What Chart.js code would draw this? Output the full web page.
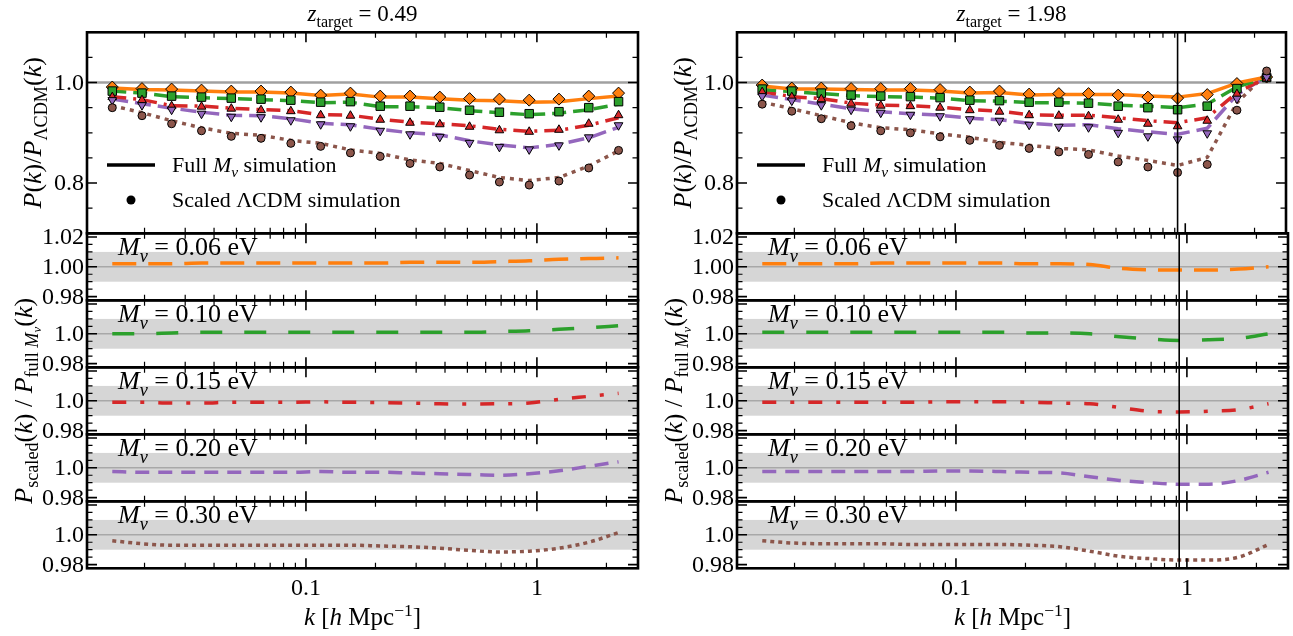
<!DOCTYPE html>
<html><head><meta charset="utf-8">
<script src="https://cdn.jsdelivr.net/npm/chart.js@4.4.1/dist/chart.umd.min.js"></script>
<style>
html,body{margin:0;padding:0;background:#fff;}
#wrap{position:relative;width:1293px;height:636px;overflow:hidden;background:#fff;}
#wrap canvas{position:absolute;left:0;top:0;width:1293px;height:636px;}
</style></head><body><div id="wrap"></div>
<script>
// ---------------- DATA ----------------
const K = [0.0145, 0.0195, 0.0262, 0.0353, 0.0475, 0.0639, 0.0860, 0.1158, 0.1558, 0.2097, 0.2822, 0.3798, 0.511, 0.688, 0.926, 1.246, 1.677, 2.257];
const MNU = ['0.06', '0.10', '0.15', '0.20', '0.30'];
const Z_TARGETS = ['0.49', '1.98'];
const K_VLINE_198 = 0.926;

// full M_nu simulation P(k)/P_LCDM(k) (lines), z = 0.49
const FULL_049 = [
  [0.989, 0.986, 0.985, 0.983, 0.981, 0.981, 0.979, 0.974, 0.977, 0.971, 0.971, 0.968, 0.965, 0.964, 0.961, 0.962, 0.968, 0.973],
  [0.983, 0.979, 0.972, 0.970, 0.968, 0.966, 0.964, 0.960, 0.961, 0.952, 0.952, 0.950, 0.944, 0.940, 0.936, 0.939, 0.946, 0.957],
  [0.972, 0.966, 0.954, 0.953, 0.949, 0.946, 0.944, 0.936, 0.935, 0.927, 0.921, 0.918, 0.914, 0.907, 0.903, 0.905, 0.915, 0.930],
  [0.967, 0.958, 0.949, 0.941, 0.935, 0.934, 0.928, 0.919, 0.916, 0.907, 0.900, 0.896, 0.884, 0.876, 0.870, 0.877, 0.890, 0.911],
  [0.954, 0.940, 0.924, 0.910, 0.899, 0.895, 0.885, 0.879, 0.866, 0.859, 0.846, 0.839, 0.825, 0.811, 0.805, 0.811, 0.834, 0.864]
];
// scaled LCDM simulation (markers), z = 0.49
const SCALED_049 = [
  [0.991, 0.988, 0.987, 0.985, 0.983, 0.983, 0.981, 0.975, 0.979, 0.973, 0.973, 0.971, 0.968, 0.967, 0.965, 0.967, 0.973, 0.979],
  [0.983, 0.979, 0.973, 0.971, 0.969, 0.967, 0.965, 0.961, 0.962, 0.953, 0.953, 0.951, 0.945, 0.941, 0.938, 0.942, 0.950, 0.962],
  [0.971, 0.965, 0.953, 0.952, 0.948, 0.945, 0.943, 0.935, 0.934, 0.926, 0.920, 0.917, 0.912, 0.905, 0.902, 0.906, 0.918, 0.935],
  [0.965, 0.955, 0.946, 0.938, 0.932, 0.931, 0.925, 0.917, 0.913, 0.904, 0.897, 0.892, 0.880, 0.872, 0.867, 0.875, 0.891, 0.915],
  [0.950, 0.934, 0.918, 0.904, 0.893, 0.889, 0.879, 0.873, 0.860, 0.853, 0.839, 0.832, 0.816, 0.802, 0.796, 0.804, 0.830, 0.865]
];
// full M_nu simulation, z = 1.98
const FULL_198 = [
  [0.993, 0.987, 0.987, 0.986, 0.985, 0.985, 0.983, 0.979, 0.980, 0.975, 0.976, 0.976, 0.976, 0.973, 0.971, 0.978, 0.999, 1.011],
  [0.986, 0.982, 0.978, 0.974, 0.972, 0.971, 0.969, 0.964, 0.963, 0.960, 0.960, 0.959, 0.955, 0.953, 0.950, 0.957, 0.991, 1.010],
  [0.982, 0.972, 0.968, 0.959, 0.955, 0.954, 0.951, 0.946, 0.943, 0.936, 0.935, 0.935, 0.930, 0.924, 0.920, 0.930, 0.980, 1.010],
  [0.975, 0.966, 0.957, 0.948, 0.942, 0.938, 0.935, 0.929, 0.926, 0.919, 0.915, 0.916, 0.908, 0.902, 0.897, 0.909, 0.976, 1.012],
  [0.961, 0.948, 0.934, 0.920, 0.910, 0.906, 0.898, 0.891, 0.881, 0.875, 0.869, 0.866, 0.854, 0.845, 0.835, 0.851, 0.960, 1.018]
];
// scaled LCDM simulation, z = 1.98
const SCALED_198 = [
  [0.995, 0.989, 0.989, 0.988, 0.988, 0.988, 0.986, 0.981, 0.983, 0.977, 0.978, 0.978, 0.975, 0.971, 0.969, 0.976, 0.998, 1.011],
  [0.987, 0.983, 0.979, 0.975, 0.973, 0.972, 0.970, 0.965, 0.964, 0.961, 0.961, 0.959, 0.953, 0.950, 0.946, 0.953, 0.988, 1.010],
  [0.981, 0.971, 0.967, 0.958, 0.954, 0.953, 0.950, 0.945, 0.942, 0.935, 0.934, 0.933, 0.926, 0.918, 0.913, 0.924, 0.977, 1.008],
  [0.973, 0.964, 0.955, 0.946, 0.940, 0.936, 0.933, 0.927, 0.924, 0.916, 0.912, 0.911, 0.900, 0.893, 0.887, 0.899, 0.968, 1.011],
  [0.957, 0.943, 0.928, 0.914, 0.904, 0.900, 0.892, 0.885, 0.875, 0.869, 0.862, 0.857, 0.842, 0.832, 0.821, 0.837, 0.945, 1.023]
];
// P_scaled / P_full ratios
const RATIO_049 = [
  [1.002, 1.002, 1.002, 1.0025, 1.0025, 1.0025, 1.0025, 1.0025, 1.0025, 1.0025, 1.003, 1.003, 1.003, 1.0035, 1.004, 1.005, 1.0055, 1.006],
  [1.000, 1.000, 1.0005, 1.001, 1.001, 1.001, 1.001, 1.001, 1.001, 1.001, 1.001, 1.001, 1.001, 1.0015, 1.002, 1.003, 1.004, 1.0055],
  [0.999, 0.999, 0.9985, 0.9985, 0.999, 0.999, 0.999, 0.9993, 0.999, 0.9988, 0.9985, 0.998, 0.9978, 0.998, 0.9985, 1.001, 1.003, 1.005],
  [0.9975, 0.997, 0.997, 0.997, 0.997, 0.997, 0.997, 0.9975, 0.997, 0.997, 0.9965, 0.996, 0.9955, 0.995, 0.996, 0.998, 1.001, 1.004],
  [0.996, 0.994, 0.993, 0.993, 0.993, 0.993, 0.993, 0.993, 0.993, 0.9925, 0.992, 0.991, 0.9895, 0.9885, 0.989, 0.991, 0.995, 1.0015]
];
const RATIO_198 = [
  [1.002, 1.002, 1.002, 1.002, 1.0025, 1.0025, 1.0025, 1.0025, 1.0025, 1.002, 1.002, 1.0015, 0.999, 0.998, 0.9978, 0.9978, 0.9985, 1.000],
  [1.001, 1.001, 1.001, 1.001, 1.001, 1.001, 1.001, 1.001, 1.001, 1.0005, 1.0005, 1.000, 0.998, 0.9965, 0.9955, 0.996, 0.997, 1.000],
  [0.999, 0.999, 0.999, 0.999, 0.999, 0.999, 0.9993, 0.9993, 0.9993, 0.999, 0.9985, 0.998, 0.9955, 0.993, 0.9925, 0.993, 0.994, 0.998],
  [0.9975, 0.9975, 0.9975, 0.9975, 0.9975, 0.9975, 0.9978, 0.9978, 0.9975, 0.997, 0.9965, 0.994, 0.9915, 0.990, 0.989, 0.989, 0.9915, 0.997],
  [0.996, 0.9945, 0.994, 0.994, 0.994, 0.9935, 0.9935, 0.9935, 0.9935, 0.993, 0.992, 0.989, 0.9855, 0.984, 0.983, 0.983, 0.985, 0.9935]
];
const X_MAJOR = [0.01, 0.1, 1];
const X_TICK_LABELS = ['0.01', '0.1', '1'];
const X_MINOR = [0.02,0.03,0.04,0.05,0.06,0.07,0.08,0.09,0.2,0.3,0.4,0.5,0.6,0.7,0.8,0.9,2,3];
const TOP_Y_MAJOR = [0.8, 1.0];
const TOP_Y_LABELS = ['0.8', '1.0'];
const TOP_Y_MINOR = [0.7,0.75,0.85,0.9,0.95,1.05,1.1];
const SUB_Y_MAJOR = [0.98, 1.00, 1.02];
const SUB_Y_LABELS_FIRST = ['0.98', '1.00', '1.02'];
const SUB_Y_LABELS_OTHER = ['0.98', '1.0', ''];
const SUB_Y_MINOR = [0.985,0.99,0.995,1.005,1.01,1.015];

// ---------------- STYLE / LAYOUT ----------------
const W = 1293, H = 636;
const XMIN = 0.01127, XMAX = 2.74;
const COL_LEFT = [87, 737], PLOT_W = 551;
const TOP_Y0 = 32.3, TOP_H = 201, SUB_H = 67;
const COLORS = ['#ff7f0e', '#2ca02c', '#d62728', '#9467bd', '#8c564b'];
const TOP_DASH = [[], [14, 7], [14, 7, 3, 7], [16, 7], [4, 5]];
const SUB_DASH = [[24, 12], [22, 22], [14, 14, 4, 14], [14, 9], [4, 4]];
const PSTYLE = ['rectRot', 'rect', 'triangle', 'triangle', 'circle'];
const PRAD = [6, 6, 5, 5, 4];
const PROT = [0, 0, 0, 180, 0];
const FONT = '"Liberation Serif", "DejaVu Serif", serif';

function segFont(s, size) { return (s.it ? 'italic ' : '') + (size * (s.s || 1)).toFixed(1) + 'px ' + FONT; }
function richWidth(ctx, segs, size) { let w = 0; for (const s of segs) { ctx.font = segFont(s, size); w += ctx.measureText(s.t).width; } return w; }
function drawRich(ctx, segs, x, y, size, align) {
  const w = richWidth(ctx, segs, size);
  let cx = align === 'center' ? x - w / 2 : align === 'right' ? x - w : x;
  ctx.textAlign = 'left'; ctx.textBaseline = 'alphabetic'; ctx.fillStyle = '#000';
  for (const s of segs) { ctx.font = segFont(s, size); ctx.fillText(s.t, cx, y + (s.dy || 0) * size); cx += ctx.measureText(s.t).width; }
}
const SUB = 0.24;
const TXT_TITLE = z => [{t:'z',it:1},{t:'target',s:0.7,dy:SUB},{t:' = ' + z}];
const TXT_TOPY = [{t:'P',it:1},{t:'('},{t:'k',it:1},{t:')/'},{t:'P',it:1},{t:'ΛCDM',s:0.7,dy:SUB},{t:'('},{t:'k',it:1},{t:')'}];
const TXT_SUBY = [{t:'P',it:1},{t:'scaled',s:0.7,dy:SUB},{t:'('},{t:'k',it:1},{t:')'},{t:' / '},{t:'P',it:1},{t:'full ',s:0.7,dy:SUB},{t:'M',it:1,s:0.7,dy:SUB},{t:'ν',it:1,s:0.5,dy:0.34},{t:'('},{t:'k',it:1},{t:')'}];
const TXT_X = [{t:'k',it:1},{t:' ['},{t:'h',it:1},{t:' Mpc'},{t:'−1',s:0.7,dy:-0.38},{t:']'}];
const TXT_MNU = m => [{t:'M',it:1},{t:'ν',it:1,s:0.7,dy:SUB},{t:' = ' + m + ' eV'}];
const TXT_LEG1 = [{t:'Full '},{t:'M',it:1},{t:'ν',it:1,s:0.7,dy:SUB},{t:' simulation'}];
const TXT_LEG2 = [{t:'Scaled ΛCDM simulation'}];

const mplPlugin = {
  id: 'mpl',
  beforeDatasetsDraw(chart, args, o) {
    const ctx = chart.ctx, a = chart.chartArea, y = chart.scales.y;
    ctx.save();
    if (o.kind === 'sub') {
      ctx.fillStyle = '#d6d6d6';
      const y1 = y.getPixelForValue(1.01), y2 = y.getPixelForValue(0.99);
      ctx.fillRect(a.left, y1, a.right - a.left, y2 - y1);
      ctx.strokeStyle = '#a8a8a8'; ctx.lineWidth = 1.5;
    } else {
      ctx.strokeStyle = '#a0a0a0'; ctx.lineWidth = 2.5;
    }
    const p = y.getPixelForValue(1.0);
    ctx.beginPath(); ctx.moveTo(a.left, p); ctx.lineTo(a.right, p); ctx.stroke();
    ctx.restore();
  },
  afterDatasetsDraw(chart, args, o) {
    if (o.col !== 1) return;
    const ctx = chart.ctx, a = chart.chartArea;
    const px = chart.scales.x.getPixelForValue(K_VLINE_198);
    ctx.save(); ctx.strokeStyle = '#000'; ctx.lineWidth = 1.6;
    ctx.beginPath(); ctx.moveTo(px, a.top); ctx.lineTo(px, a.bottom); ctx.stroke(); ctx.restore();
  },
  afterDraw(chart, args, o) {
    const ctx = chart.ctx, a = chart.chartArea, xs = chart.scales.x, ys = chart.scales.y;
    ctx.save();
    ctx.strokeStyle = '#000';
    const xt = (v, len, lw) => { const p = xs.getPixelForValue(v); if (p < a.left + 1 || p > a.right - 1) return;
      ctx.lineWidth = lw; ctx.beginPath(); ctx.moveTo(p, a.top); ctx.lineTo(p, a.top + len); ctx.moveTo(p, a.bottom); ctx.lineTo(p, a.bottom - len); ctx.stroke(); };
    const yt = (v, len, lw) => { const p = ys.getPixelForValue(v); if (p < a.top + 1 || p > a.bottom - 1) return;
      ctx.lineWidth = lw; ctx.beginPath(); ctx.moveTo(a.left, p); ctx.lineTo(a.left + len, p); ctx.moveTo(a.right, p); ctx.lineTo(a.right - len, p); ctx.stroke(); };
    X_MAJOR.forEach(v => xt(v, 10, 1.6));
    X_MINOR.forEach(v => xt(v, 5.5, 1.2));
    const ymaj = o.kind === 'top' ? TOP_Y_MAJOR : SUB_Y_MAJOR;
    const ymin = o.kind === 'top' ? TOP_Y_MINOR : SUB_Y_MINOR;
    ymaj.forEach(v => yt(v, 10, 1.6));
    ymin.forEach(v => yt(v, 5.5, 1.2));
    ctx.lineWidth = 2.6;
    ctx.strokeRect(a.left, a.top, a.right - a.left, a.bottom - a.top);
    ctx.fillStyle = '#000'; ctx.font = '24px ' + FONT; ctx.textAlign = 'right'; ctx.textBaseline = 'middle';
    const labs = o.kind === 'top' ? TOP_Y_LABELS : (o.idx === 0 ? SUB_Y_LABELS_FIRST : SUB_Y_LABELS_OTHER);
    ymaj.forEach((v, i) => { if (labs[i]) ctx.fillText(labs[i], a.left - 3, ys.getPixelForValue(v) + 1); });
    const cx = (a.left + a.right) / 2;
    if (o.kind === 'top') {
      drawRich(ctx, TXT_TITLE(Z_TARGETS[o.col]), cx, 21, 23, 'center');
      ctx.strokeStyle = '#000'; ctx.lineWidth = 3.5;
      ctx.beginPath(); ctx.moveTo(a.left + 20, 165); ctx.lineTo(a.left + 68, 165); ctx.stroke();
      ctx.fillStyle = '#000'; ctx.beginPath(); ctx.arc(a.left + 44, 200, 4.5, 0, Math.PI * 2); ctx.fill();
      drawRich(ctx, TXT_LEG1, a.left + 85, 172, 22, 'left');
      drawRich(ctx, TXT_LEG2, a.left + 85, 207, 22, 'left');
      ctx.save(); ctx.translate(a.left - 46, (a.top + a.bottom) / 2); ctx.rotate(-Math.PI / 2);
      drawRich(ctx, TXT_TOPY, 0, 0, 26, 'center'); ctx.restore();
    } else {
      drawRich(ctx, TXT_MNU(MNU[o.idx]), a.left + 31, a.top + 22, 26, 'left');
      if (o.idx === 2) {
        ctx.save(); ctx.translate(a.left - 55, a.top + SUB_H / 2); ctx.rotate(-Math.PI / 2);
        drawRich(ctx, TXT_SUBY, 0, 0, 26, 'center'); ctx.restore();
      }
      if (o.idx === 4) {
        ctx.fillStyle = '#000'; ctx.font = '24px ' + FONT; ctx.textAlign = 'center'; ctx.textBaseline = 'alphabetic';
        X_MAJOR.forEach((v, i) => { const p = xs.getPixelForValue(v); if (p >= a.left && p <= a.right) ctx.fillText(X_TICK_LABELS[i], p, a.bottom + 27); });
        drawRich(ctx, TXT_X, cx, a.bottom + 57, 25, 'center');
      }
    }
    ctx.restore();
  }
};

const wrap = document.getElementById('wrap');
function makeChart(l, t, b, ymin, ymax, datasets, mpl) {
  const c = document.createElement('canvas');
  c.width = W; c.height = H; wrap.appendChild(c);
  return new Chart(c, {
    type: 'line',
    data: { datasets },
    options: {
      responsive: false, animation: false, devicePixelRatio: 1,
      layout: { padding: { left: l, right: W - (l + PLOT_W), top: t, bottom: H - b } },
      scales: {
        x: { type: 'logarithmic', min: XMIN, max: XMAX, display: false },
        y: { type: 'linear', min: ymin, max: ymax, display: false }
      },
      plugins: { legend: { display: false }, tooltip: { enabled: false }, mpl },
      events: []
    },
    plugins: [mplPlugin]
  });
}
const pts = arr => K.map((k, j) => ({ x: k, y: arr[j] }));

[[FULL_049, SCALED_049, RATIO_049], [FULL_198, SCALED_198, RATIO_198]].forEach(([full, scaled, ratio], col) => {
  const l = COL_LEFT[col];
  const ds = [];
  for (let i = 0; i < 5; i++) {
    ds.push({ data: pts(full[i]), borderColor: COLORS[i], borderWidth: 3.5, borderDash: TOP_DASH[i], borderCapStyle: 'butt', borderJoinStyle: 'round', pointRadius: 0, tension: 0, fill: false, order: 10 });
  }
  for (let i = 0; i < 5; i++) {
    ds.push({ data: pts(scaled[i]), showLine: false, pointStyle: PSTYLE[i], pointRadius: PRAD[i], pointRotation: PROT[i], pointBackgroundColor: COLORS[i], pointBorderColor: '#000', pointBorderWidth: 1, backgroundColor: COLORS[i], borderColor: '#000', order: 5 - i });
  }
  makeChart(l, TOP_Y0, TOP_Y0 + TOP_H, 0.7, 1.1, ds, { kind: 'top', col });
  for (let i = 0; i < 5; i++) {
    const t = TOP_Y0 + TOP_H + i * SUB_H;
    makeChart(l, t, t + SUB_H, 0.9775, 1.0225, [{ data: pts(ratio[i]), borderColor: COLORS[i], borderWidth: 3.5, borderDash: SUB_DASH[i], borderCapStyle: 'butt', pointRadius: 0, cubicInterpolationMode: 'monotone', fill: false }], { kind: 'sub', col, idx: i });
  }
});
</script></body></html>
